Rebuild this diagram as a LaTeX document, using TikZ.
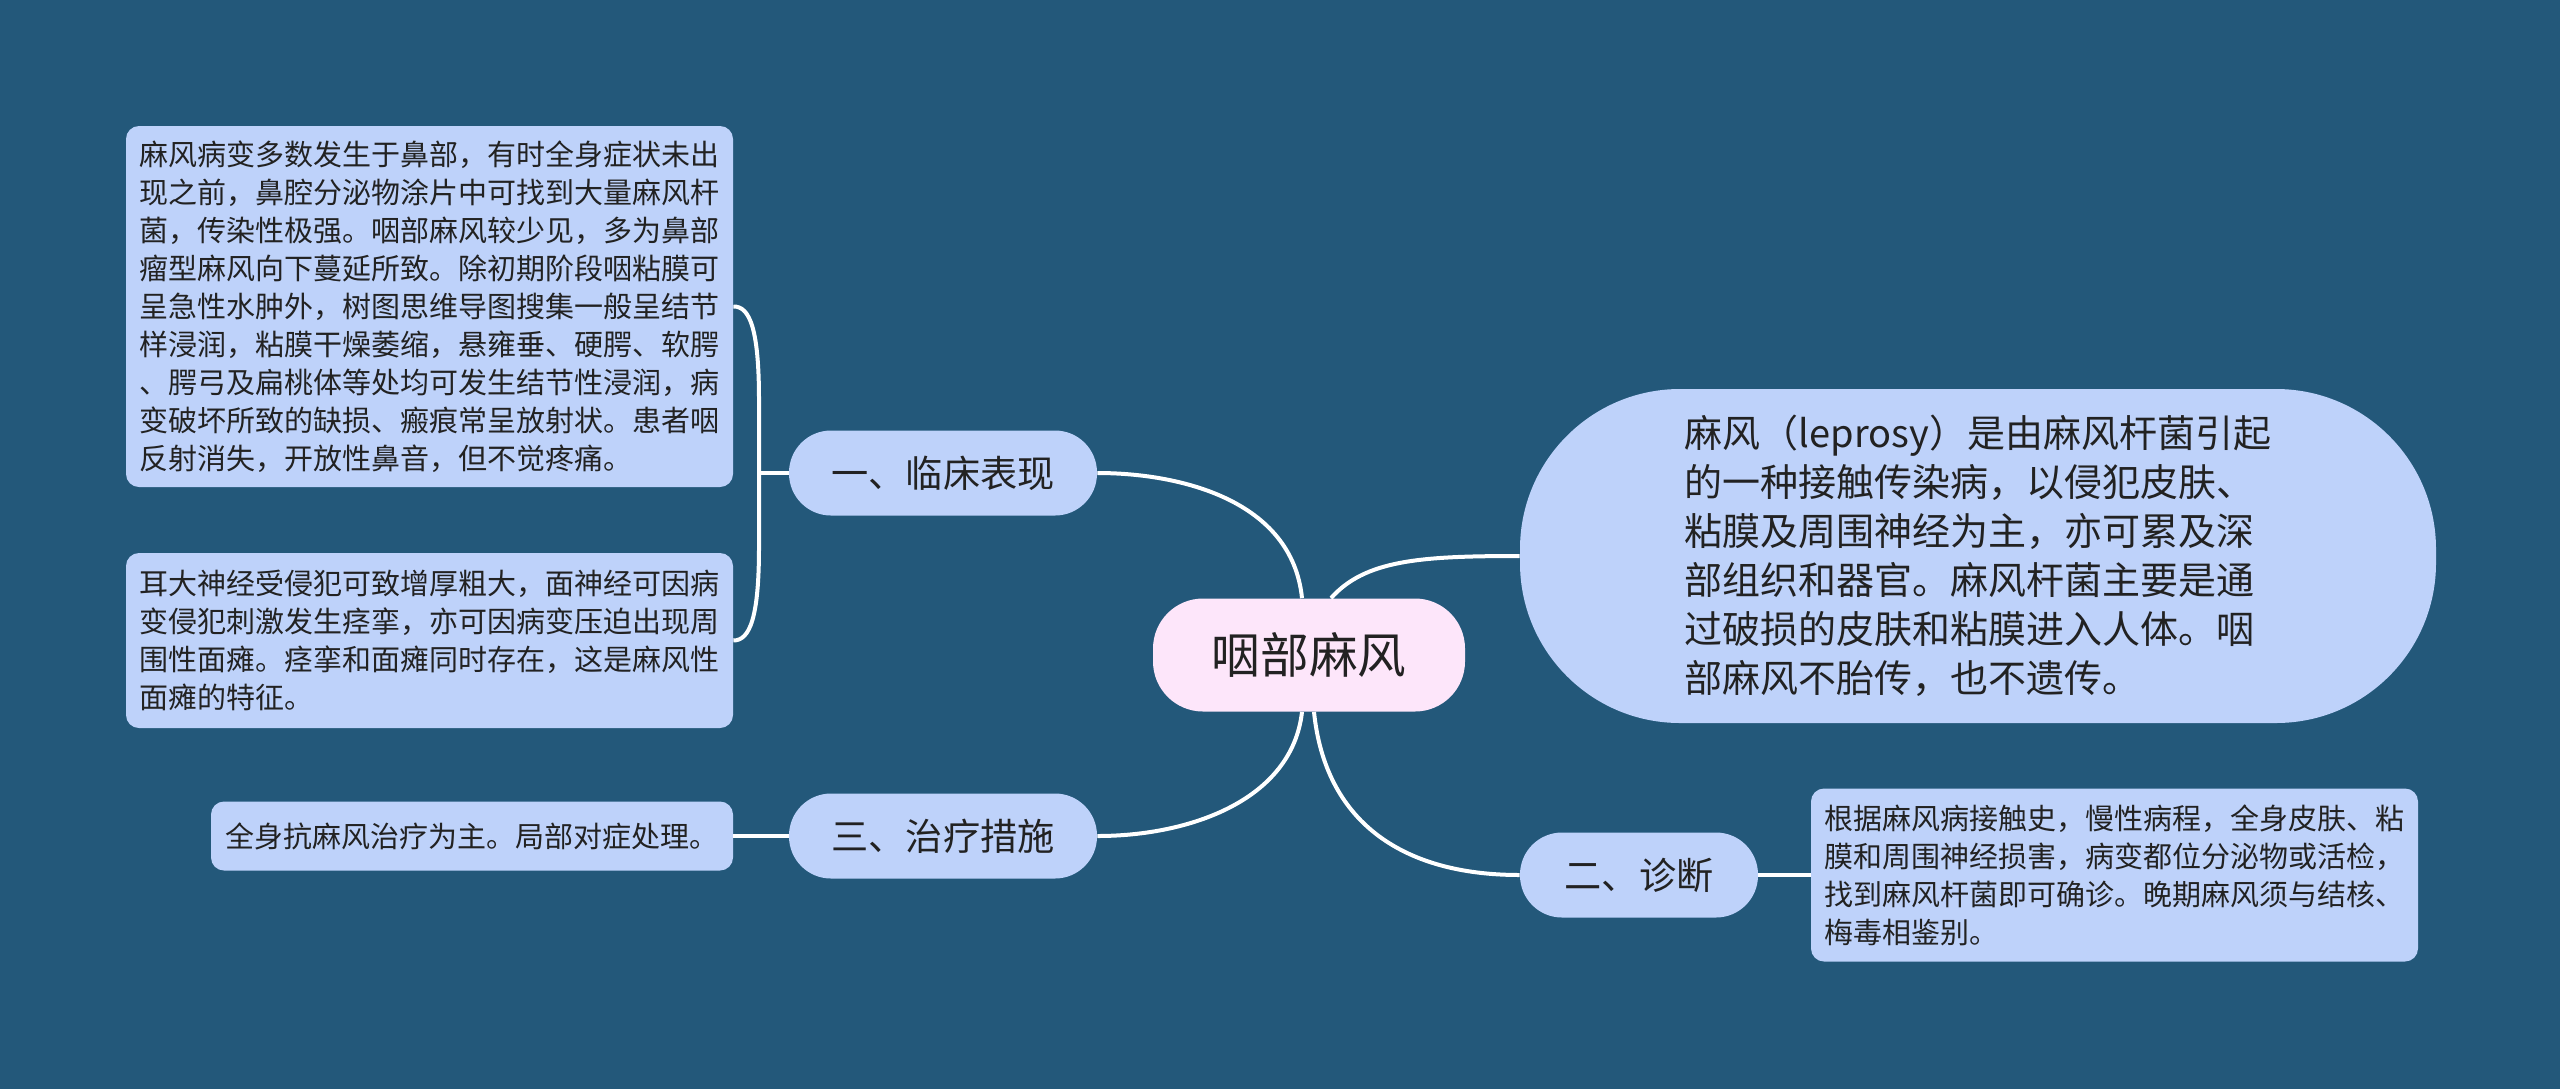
\documentclass[tikz,border=0pt]{standalone}
\usepackage{fontspec}
\setmainfont{Noto Sans CJK SC}
\definecolor{bg}{RGB}{35,88,122}
\definecolor{leaf}{RGB}{190,210,250}
\definecolor{rootc}{RGB}{253,230,250}
\definecolor{ink}{RGB}{34,34,34}
\tikzset{
  leafbox/.style={fill=leaf, rounded corners=6.5pt, inner sep=0pt, align=left, text=ink, font=\fontsize{14.5}{19}\selectfont},
  branchbox/.style={fill=leaf, rounded corners=21pt, inner sep=0pt, text=ink, font=\fontsize{18.6}{22}\selectfont, minimum height=42.5pt},
  bigbox/.style={fill=leaf, rounded corners=80pt, inner sep=0pt, align=left, text=ink, font=\fontsize{19}{24.5}\selectfont},
  rootbox/.style={fill=rootc, rounded corners=25pt, inner sep=0pt, text=ink, font=\fontsize{24.3}{28}\selectfont},
  link/.style={draw=white, line width=2pt},
}
\begin{document}
\begin{tikzpicture}[x=0.5pt, y=-0.5pt]
\useasboundingbox (0,0) rectangle (2560,1089);
\fill[bg] (0,0) rectangle (2560,1089);

\node[rootbox, minimum width=156pt, minimum height=56.5pt] (c) at (1309,655) {咽部麻风};
\node[branchbox, minimum width=154pt] (b1) at (943,473) {一、临床表现};
\node[branchbox, minimum width=154pt] (b3) at (943,836) {三、治疗措施};
\node[branchbox, minimum width=119pt] (b2) at (1639,875) {二、诊断};

\node[bigbox, minimum width=458pt, minimum height=167pt] (big) at (1978,556)
 {麻风（leprosy）是由麻风杆菌引起\\的一种接触传染病，以侵犯皮肤、\\粘膜及周围神经为主，亦可累及深\\部组织和器官。麻风杆菌主要是通\\过破损的皮肤和粘膜进入人体。咽\\部麻风不胎传，也不遗传。};

\node[leafbox, minimum width=303.5pt, minimum height=180.5pt] (l1) at (429.5,306.5)
 {麻风病变多数发生于鼻部，有时全身症状未出\\现之前，鼻腔分泌物涂片中可找到大量麻风杆\\菌，传染性极强。咽部麻风较少见，多为鼻部\\瘤型麻风向下蔓延所致。除初期阶段咽粘膜可\\呈急性水肿外，树图思维导图搜集一般呈结节\\样浸润，粘膜干燥萎缩，悬雍垂、硬腭、软腭\\、腭弓及扁桃体等处均可发生结节性浸润，病\\变破坏所致的缺损、瘢痕常呈放射状。患者咽\\反射消失，开放性鼻音，但不觉疼痛。};

\node[leafbox, minimum width=303.5pt, minimum height=87.5pt] (l2) at (429.5,640.5)
 {耳大神经受侵犯可致增厚粗大，面神经可因病\\变侵犯刺激发生痉挛，亦可因病变压迫出现周\\围性面瘫。痉挛和面瘫同时存在，这是麻风性\\面瘫的特征。};

\node[leafbox, minimum width=261pt, minimum height=34.5pt] (t) at (472,836)
 {全身抗麻风治疗为主。局部对症处理。};

\node[leafbox, minimum width=303.5pt, minimum height=86.5pt] (d) at (2114.5,875)
 {根据麻风病接触史，慢性病程，全身皮肤、粘\\膜和周围神经损害，病变都位分泌物或活检，\\找到麻风杆菌即可确诊。晚期麻风须与结核、\\梅毒相鉴别。};

% connectors from root
\draw[link] ([xshift=-3.5pt]c.north) .. controls (1292,500) and (1180,473) .. (b1.east);
\draw[link] ([xshift=11pt]c.north) .. controls (1365,560) and (1420,556) .. (big.west);
\draw[link] ([xshift=-3.5pt]c.south) .. controls (1292,800) and (1190,836) .. (b3.east);
\draw[link] ([xshift=2.5pt]c.south) .. controls (1325,820) and (1400,875) .. (b2.west);

% bracket for branch one
\coordinate (j) at (759,473);
\draw[link] (b1.west) -- (j);
\draw[link] (l1.east) .. controls (750,306) and (759,330) .. (759,400) -- (759,547) .. controls (759,617) and (750,640.5) .. (l2.east);

% straight connectors
\draw[link] (b3.west) -- (t.east);
\draw[link] (b2.east) -- (d.west);
\end{tikzpicture}
\end{document}
